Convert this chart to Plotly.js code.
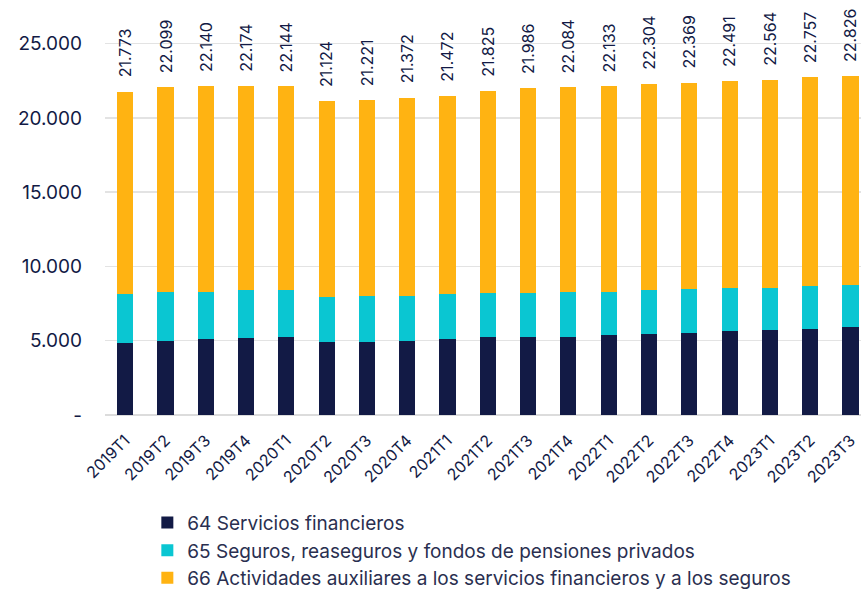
<!DOCTYPE html>
<html>
<head>
<meta charset="utf-8">
<script src="https://cdn.plot.ly/plotly-3.0.1.min.js"></script>
<style>html,body{margin:0;padding:0;background:#fff;}#chart{width:861px;height:589px;}</style>
</head>
<body>
<div id="chart"></div>
<script>
const categories = ["2019T1","2019T2","2019T3","2019T4","2020T1","2020T2","2020T3","2020T4","2021T1","2021T2","2021T3","2021T4","2022T1","2022T2","2022T3","2022T4","2023T1","2023T2","2023T3"];
const serviciosFinancieros = [4818,5000,5088,5155,5249,4886,4886,4980,5088,5249,5249,5249,5357,5424,5518,5626,5693,5787,5895];
const seguros = [3298,3297,3209,3230,3136,3055,3142,3048,3028,2934,2934,3048,2940,2961,2934,2941,2874,2867,2827];
const totals = [21773,22099,22140,22174,22144,21124,21221,21372,21472,21825,21986,22084,22133,22304,22369,22491,22564,22757,22826];
const actividadesAuxiliares = [13657,13802,13843,13789,13759,13183,13193,13344,13356,13642,13803,13787,13836,13919,13917,13924,13997,14103,14104];
const seriesNames = ["64 Servicios financieros","65 Seguros, reaseguros y fondos de pensiones privados","66 Actividades auxiliares a los servicios financieros y a los seguros"];
const yTickVals = [0,5000,10000,15000,20000,25000];
const yTickText = ["-","5.000","10.000","15.000","20.000","25.000"];

const navy = "#121a45";
const fmt = v => String(v).replace(/\B(?=(\d{3})+(?!\d))/g, ".");
const font = "Inter, 'Noto Sans', sans-serif";

const traces = [
  {type:"bar", name:seriesNames[0], x:categories, y:serviciosFinancieros, marker:{color:"#121a45"}},
  {type:"bar", name:seriesNames[1], x:categories, y:seguros, marker:{color:"#0ac6d2"}},
  {type:"bar", name:seriesNames[2], x:categories, y:actividadesAuxiliares, marker:{color:"#ffb312"}}
];

const annotations = categories.map((c,i)=>({
  x:c, y:totals[i], xref:"x", yref:"y", text:fmt(totals[i]),
  textangle:-90, showarrow:false, xanchor:"center", yanchor:"bottom", yshift:12,
  font:{family:font, size:16, color:navy}
}));

const layout = {
  width:861, height:589,
  margin:{l:105, r:0, t:14, b:174, autoexpand:false},
  barmode:"stack", bargap:0.6,
  paper_bgcolor:"#fff", plot_bgcolor:"#fff",
  font:{family:font, color:navy},
  xaxis:{type:"category", range:[-0.5,18.26], tickangle:-45, tickfont:{size:16, color:navy}, showgrid:false, showline:false, ticks:"", automargin:false, ticklabelstandoff:12},
  yaxis:{range:[0,27000], tickvals:yTickVals, ticktext:yTickText, tickfont:{size:19, color:navy}, showgrid:true, gridcolor:"#e3e3e3", gridwidth:1.5, zeroline:true, zerolinecolor:"#dcdcdc", zerolinewidth:1.5, ticks:"", ticklabelstandoff:22, automargin:false},
  showlegend:true,
  legend:{orientation:"v", x:0.056, y:-0.221, xanchor:"left", yanchor:"top", traceorder:"normal", font:{size:19, color:"#2a2f50"}, tracegroupgap:0},
  annotations:annotations
};

Plotly.newPlot("chart", traces, layout, {displayModeBar:false, staticPlot:true});
</script>
</body>
</html>
